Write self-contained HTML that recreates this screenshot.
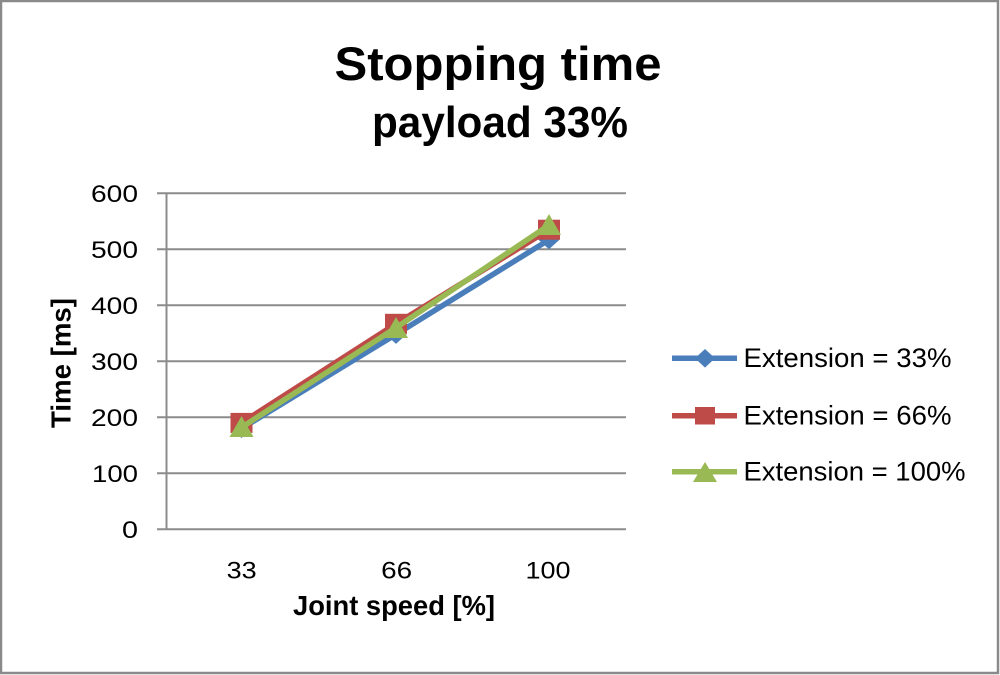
<!DOCTYPE html>
<html><head><meta charset="utf-8"><style>
html,body{margin:0;padding:0;background:#fff;}
svg{display:block;}
text{font-family:"Liberation Sans",sans-serif;fill:#000;}
</style></head><body>
<svg width="1000" height="675" viewBox="0 0 1000 675" xmlns="http://www.w3.org/2000/svg">
<rect x="0" y="0" width="1000" height="675" fill="#fff"/>
<rect x="1" y="1" width="997" height="672" fill="none" stroke="#8a8a8a" stroke-width="2.5"/>
<!-- Title -->
<text x="498" y="80" font-size="47" font-weight="bold" text-anchor="middle" textLength="327" lengthAdjust="spacingAndGlyphs">Stopping time</text>
<text x="500" y="137" font-size="44" font-weight="bold" text-anchor="middle" textLength="256" lengthAdjust="spacingAndGlyphs">payload 33%</text>
<!-- gridlines -->
<g stroke="#8c8c8c" stroke-width="2">
<line x1="157" y1="193.3" x2="626" y2="193.3"/>
<line x1="157" y1="249.3" x2="626" y2="249.3"/>
<line x1="157" y1="305.3" x2="626" y2="305.3"/>
<line x1="157" y1="361.3" x2="626" y2="361.3"/>
<line x1="157" y1="417.3" x2="626" y2="417.3"/>
<line x1="157" y1="473.3" x2="626" y2="473.3"/>
<line x1="157" y1="529.3" x2="626" y2="529.3"/>
<line x1="166.5" y1="193.3" x2="166.5" y2="529.3"/>
</g>
<!-- y tick labels -->
<g font-size="24" text-anchor="end" fill="#111">
<text x="138" y="202" textLength="47" lengthAdjust="spacingAndGlyphs">600</text>
<text x="138" y="258" textLength="47" lengthAdjust="spacingAndGlyphs">500</text>
<text x="138" y="314" textLength="47" lengthAdjust="spacingAndGlyphs">400</text>
<text x="138" y="370" textLength="47" lengthAdjust="spacingAndGlyphs">300</text>
<text x="138" y="426" textLength="47" lengthAdjust="spacingAndGlyphs">200</text>
<text x="138" y="482" textLength="46" lengthAdjust="spacingAndGlyphs">100</text>
<text x="138" y="538" textLength="16" lengthAdjust="spacingAndGlyphs">0</text>
</g>
<!-- x tick labels -->
<g font-size="24" text-anchor="middle">
<text x="241.7" y="578.5" textLength="30" lengthAdjust="spacingAndGlyphs">33</text>
<text x="396.7" y="578.5" textLength="31" lengthAdjust="spacingAndGlyphs">66</text>
<text x="548" y="578.5" textLength="45" lengthAdjust="spacingAndGlyphs">100</text>
</g>
<!-- axis titles -->
<text x="394" y="615" font-size="27.5" font-weight="bold" text-anchor="middle" textLength="202" lengthAdjust="spacingAndGlyphs">Joint speed [%]</text>
<text transform="translate(70.5,363) rotate(-90)" x="0" y="0" font-size="28" font-weight="bold" text-anchor="middle" textLength="130" lengthAdjust="spacingAndGlyphs">Time [ms]</text>
<!-- series: blue -->
<polyline points="241.5,428.5 396,334.4 549,239.8" fill="none" stroke="#4a7ebb" stroke-width="5.5" stroke-linejoin="round"/>
<g fill="#4a7ebb">
<polygon points="241.5,419 252,428.5 241.5,438 231,428.5"/>
<polygon points="396,324.9 406.5,334.4 396,343.9 385.5,334.4"/>
<polygon points="549,230.3 559.5,239.8 549,249.3 538.5,239.8"/>
</g>
<!-- series: red -->
<polyline points="241.5,422.9 396,323.8 549,229.7" fill="none" stroke="#be4b48" stroke-width="5.5" stroke-linejoin="round"/>
<g fill="#be4b48">
<rect x="230.5" y="412.9" width="22" height="20"/>
<rect x="385" y="313.8" width="22" height="20"/>
<rect x="538" y="219.7" width="22" height="20"/>
</g>
<!-- series: green -->
<polyline points="241.5,427.4 396,327.7 549,225.2" fill="none" stroke="#98b954" stroke-width="5.5" stroke-linejoin="round"/>
<g fill="#98b954">
<polygon points="241.5,416 253.5,437 229.5,437"/>
<polygon points="396,317 408,338 384,338"/>
<polygon points="549,214 561,235 537,235"/>
</g>
<!-- legend -->
<line x1="672" y1="358.3" x2="737" y2="358.3" stroke="#4a7ebb" stroke-width="5.5"/>
<polygon points="705,349 715,358.3 705,367.6 695,358.3" fill="#4a7ebb"/>
<text x="743.5" y="367" font-size="26.5" textLength="208" lengthAdjust="spacingAndGlyphs">Extension = 33%</text>
<line x1="672" y1="415.7" x2="737" y2="415.7" stroke="#be4b48" stroke-width="5.5"/>
<rect x="695" y="407" width="20" height="17.5" fill="#be4b48"/>
<text x="743.5" y="424.4" font-size="26.5" textLength="208" lengthAdjust="spacingAndGlyphs">Extension = 66%</text>
<line x1="672" y1="471.7" x2="737" y2="471.7" stroke="#98b954" stroke-width="5.5"/>
<polygon points="705,462 717,482 693,482" fill="#98b954"/>
<text x="743.5" y="480.4" font-size="26.5" textLength="222" lengthAdjust="spacingAndGlyphs">Extension = 100%</text>
</svg>
</body></html>
